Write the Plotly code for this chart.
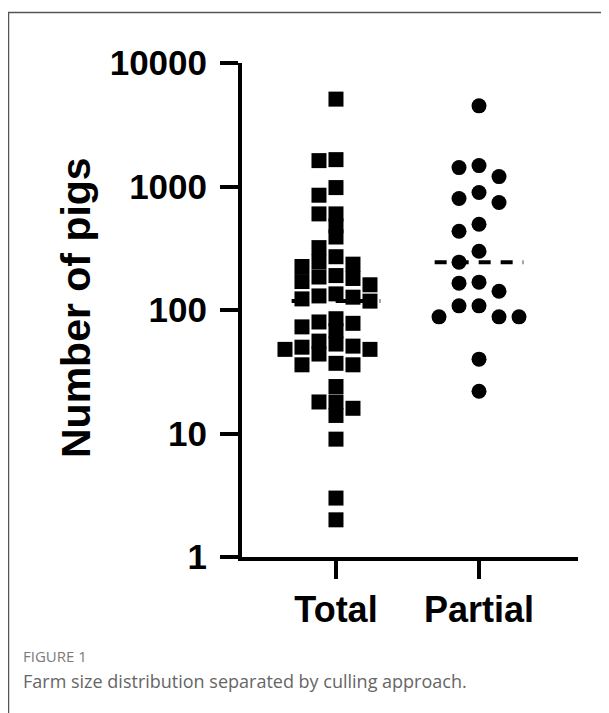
import numpy as np
import plotly.graph_objects as go

# ---------------- data ----------------
categories = ["Total", "Partial"]
total_values = [5100, 1650, 1620, 980, 850, 600, 600, 480, 390, 320, 270, 245,
                235, 225, 190, 185, 180, 170, 160, 135, 130, 127, 123, 118,
                85, 80, 78, 73, 68, 56, 53, 51, 50, 48, 48, 44, 37, 36, 36,
                24, 18, 18, 16, 14, 9, 3, 2]
partial_values = [4500, 1477, 1422, 1203, 895, 800, 743, 494, 434, 299, 244,
                  168, 165, 142, 108, 108, 88, 88, 88, 40, 22]
y_tickvals = [1, 10, 100, 1000, 10000]
y_ticktext = ["1", "10", "100", "1000", "10000"]

# ---------------- geometry (page px; page body has an 8px margin) ----------
BODY = 8
W, H = 609 - BODY, 713 - BODY
PLOT_L, PLOT_R, PLOT_T, PLOT_B = 242, 578, 63, 557   # page coordinates
ML, MR = PLOT_L - BODY, (W + BODY) - PLOT_R
MT, MB = PLOT_T - BODY, (H + BODY) - PLOT_B
PW = PLOT_R - PLOT_L
PH = PLOT_B - PLOT_T
X_RANGE = [-0.657, 1.692]
PX_PER_X = PW / (X_RANGE[1] - X_RANGE[0])
PX_PER_DEC = PH / 4.0


def swarm(vals, step_px, min_dy):
    """Simple column dodge (GraphPad-like scatter) in pixel space."""
    vals = np.asarray(vals, float)
    ys = np.log10(vals) * PX_PER_DEC
    order = np.argsort(-vals, kind="stable")
    cols = {}
    offs = np.zeros(len(vals))
    cand = [0]
    for k in range(1, 12):
        cand += [-k, k]
    for i in order:
        for k in cand:
            if all(abs(ys[i] - yj) >= min_dy for yj in cols.get(k, [])):
                cols.setdefault(k, []).append(ys[i])
                offs[i] = k * step_px
                break
    return offs / PX_PER_X


def px_to_paper_x(px):
    return (px - PLOT_L) / PW


def px_to_paper_y(py):
    return (PLOT_B - py) / PH


fig = go.Figure()

tot_x = 0 + swarm(total_values, 17, 11)
par_x = 1 + swarm(partial_values, 20, 15)

fig.add_trace(go.Scatter(x=tot_x, y=total_values, mode="markers",
                         marker=dict(symbol="square", size=15, color="black",
                                     line=dict(width=0)),
                         showlegend=False, hoverinfo="y"))
fig.add_trace(go.Scatter(x=par_x, y=partial_values, mode="markers",
                         marker=dict(symbol="circle", size=15, color="black",
                                     line=dict(width=0)),
                         showlegend=False, hoverinfo="y"))

for i, vals in enumerate([total_values, partial_values]):
    med = float(np.median(vals))
    fig.add_trace(go.Scatter(x=[i - 0.31, i + 0.31], y=[med, med], mode="lines",
                             line=dict(color="black", width=4, dash="12px,10px"),
                             showlegend=False, hoverinfo="skip"))

bold = dict(family="Liberation Sans, Arial, sans-serif", color="black", weight="bold")
cap_font = "Open Sans, Noto Sans, sans-serif"

fig.update_layout(
    width=W, height=H,
    margin=dict(l=ML, r=MR, t=MT, b=MB, autoexpand=False),
    paper_bgcolor="white", plot_bgcolor="white",
    xaxis=dict(range=X_RANGE, tickvals=[0, 1], ticktext=categories,
               showgrid=False, zeroline=False, showline=True, linecolor="black",
               linewidth=4, ticks="outside", ticklen=18, tickwidth=4,
               tickcolor="black", tickfont=dict(size=36, **bold),
               ticklabelstandoff=0),
    yaxis=dict(type="log", range=[0, 4], tickvals=y_tickvals, ticktext=y_ticktext,
               showgrid=False, zeroline=False, showline=True, linecolor="black",
               linewidth=4, ticks="outside", ticklen=18, tickwidth=4,
               tickcolor="black", tickfont=dict(size=35, **bold),
               ticklabelstandoff=6),
    annotations=[
        dict(text="Number of pigs", textangle=-90, xref="paper", yref="paper",
             x=px_to_paper_x(76), y=px_to_paper_y(308), xanchor="center",
             yanchor="middle", showarrow=False, font=dict(size=41, **bold)),
        dict(text="FIGURE 1", xref="paper", yref="paper",
             x=px_to_paper_x(21), y=px_to_paper_y(656), xanchor="left",
             yanchor="middle", showarrow=False,
             font=dict(family=cap_font, size=15, color="#7a7a7a")),
        dict(text="Farm size distribution separated by culling approach.",
             xref="paper", yref="paper",
             x=px_to_paper_x(21), y=px_to_paper_y(681), xanchor="left",
             yanchor="middle", showarrow=False,
             font=dict(family=cap_font, size=18, color="#666666")),
    ],
    shapes=[
        dict(type="rect", xref="paper", yref="paper",
             x0=px_to_paper_x(8.5), x1=px_to_paper_x(760),
             y0=px_to_paper_y(12.5), y1=px_to_paper_y(800),
             line=dict(color="#555555", width=1.5), layer="below"),
    ],
)

fig.write_html("out.html")
